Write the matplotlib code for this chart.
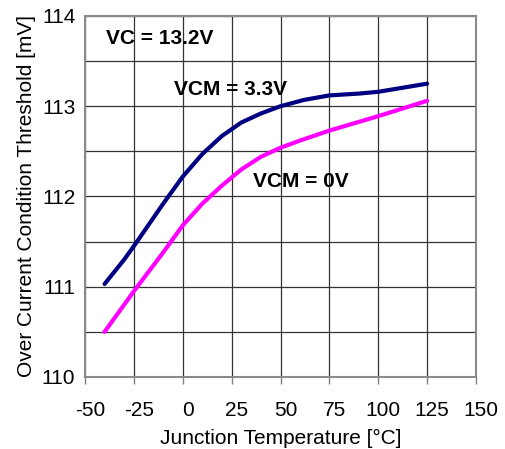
import matplotlib
matplotlib.use("Agg")
import matplotlib.pyplot as plt
import matplotlib.transforms as mtransforms

plt.rcParams['font.family'] = ['Liberation Sans', 'DejaVu Sans']
plt.rcParams['axes.unicode_minus'] = False

temp_hi = [-40, -30, -25, -10, 0, 10, 20, 30, 40, 50, 62, 75, 90, 100, 125]
vcm33 = [111.03, 111.30, 111.45, 111.92, 112.22, 112.47, 112.67, 112.82, 112.92,
         113.00, 113.07, 113.12, 113.14, 113.16, 113.25]
temp_lo = [-40, -25, -10, 0, 10, 20, 30, 40, 50, 60, 75, 100, 125]
vcm0 = [110.50, 110.95, 111.38, 111.68, 111.92, 112.12, 112.30, 112.44, 112.54,
        112.62, 112.73, 112.89, 113.06]
xticks = [-50, -25, 0, 25, 50, 75, 100, 125, 150]
yticks = [110, 111, 112, 113, 114]
yminor = [110.5, 111.5, 112.5, 113.5]

fig = plt.figure(figsize=(5.05, 4.49), dpi=100)
ax = fig.add_axes([0.1683, 0.1604, 0.7743, 0.8040])

ax.plot(temp_hi, vcm33, color='#000080', lw=3, solid_capstyle='round', solid_joinstyle='round', zorder=3)
ax.plot(temp_lo, vcm0, color='#FF00FF', lw=3, solid_capstyle='round', solid_joinstyle='round', zorder=3)

ax.set_xlim(-50, 150)
ax.set_ylim(110, 114)
ax.set_xticks(xticks)
ax.set_yticks(yticks)
ax.set_yticks(yminor, minor=True)
ax.grid(True, which='both', color='#333333', lw=0.9)
ax.tick_params(axis='y', which='both', length=0, pad=7, labelsize=15)
ax.tick_params(axis='x', length=5, width=1, color='#808080', pad=12, labelsize=15)
for s in ax.spines.values():
    s.set_color('#8a8a8a')
    s.set_linewidth(1.5)

offset = mtransforms.ScaledTranslation(5/100, 0, fig.dpi_scale_trans)
for lab in ax.get_xticklabels():
    lab.set_transform(lab.get_transform() + offset)

ax.set_xlabel('Junction Temperature [°C]', fontsize=15, labelpad=7)
ax.set_ylabel('Over Current Condition Threshold [mV]', fontsize=15, labelpad=4)

ax.text(-39.5, 113.75, 'VC = 13.2V', fontsize=15, fontweight='bold', va='center', ha='left')
ax.text(-4.5, 113.19, 'VCM = 3.3V', fontsize=15, fontweight='bold', va='center', ha='left')
ax.text(36, 112.17, 'VCM = 0V', fontsize=15, fontweight='bold', va='center', ha='left')

fig.savefig('out.png', dpi=100)
